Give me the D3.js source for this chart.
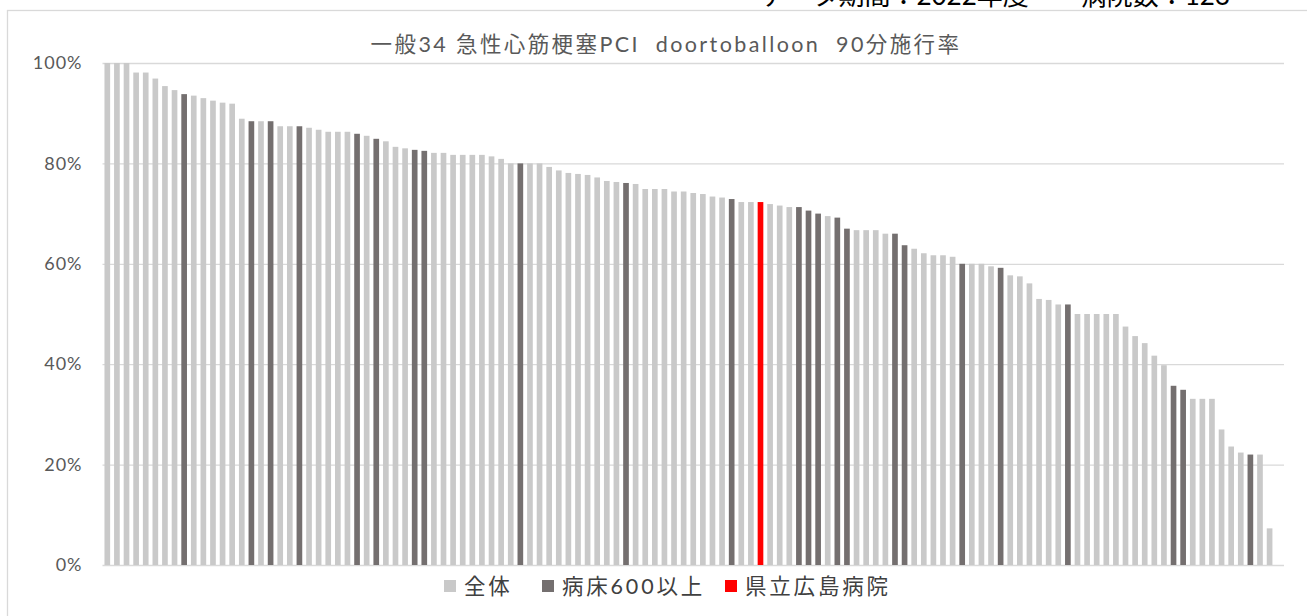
<!DOCTYPE html>
<html lang="ja">
<head>
  <meta charset="UTF-8">
  <title>急性心筋梗塞PCI doortoballoon 90分施行率</title>
  <script src="https://d3js.org/d3.v7.min.js"></script>
  <style>
    body { margin: 0; background: #fff; }
    svg { display: block; }
    text { font-family: Lato, "Noto Sans CJK JP", sans-serif; }
    .grid line { stroke: #d9d9d9; stroke-width: 1.3px; }
    .grid text { fill: #595959; font-size: 18px; letter-spacing: 1px; }
    .title { fill: #595959; font-size: 21.5px; letter-spacing: 2.4px; white-space: pre; }
    .legend text { fill: #404040; font-size: 21.5px; letter-spacing: 2.8px; }
    .header { fill: #000; font-size: 26px; }
  </style>
</head>
<body>
  <svg width="1307" height="616"></svg>

  <script>
    // 施行率（降順、病院数123）
    const rates = [
      1.000, 1.000, 1.000, 0.981, 0.981, 0.969, 0.954, 0.946, 0.938, 0.935,
      0.930, 0.925, 0.921, 0.919, 0.889, 0.884, 0.884, 0.884, 0.874, 0.874,
      0.874, 0.871, 0.867, 0.863, 0.863, 0.863, 0.859, 0.855, 0.849, 0.844,
      0.833, 0.830, 0.827, 0.825, 0.821, 0.821, 0.817, 0.817, 0.817, 0.817,
      0.814, 0.809, 0.800, 0.800, 0.800, 0.800, 0.793, 0.786, 0.781, 0.779,
      0.777, 0.772, 0.765, 0.763, 0.761, 0.759, 0.749, 0.749, 0.749, 0.744,
      0.744, 0.741, 0.739, 0.734, 0.732, 0.729, 0.723, 0.723, 0.723, 0.719,
      0.716, 0.713, 0.713, 0.706, 0.700, 0.695, 0.692, 0.670, 0.667, 0.667,
      0.667, 0.660, 0.660, 0.637, 0.630, 0.621, 0.617, 0.617, 0.614, 0.600,
      0.600, 0.600, 0.595, 0.592, 0.577, 0.575, 0.561, 0.530, 0.528, 0.519,
      0.519, 0.500, 0.500, 0.500, 0.500, 0.500, 0.475, 0.456, 0.442, 0.417,
      0.398, 0.357, 0.349, 0.331, 0.331, 0.331, 0.270, 0.236, 0.224, 0.220,
      0.220, 0.073, 0.000
    ];

    // 病床600以上の病院（順位）
    const largeHospitals = [9, 16, 18, 21, 27, 29, 33, 34, 44, 55, 66, 73, 74, 75, 77, 78,
                            83, 84, 90, 94, 101, 112, 113, 120];
    // 県立広島病院（順位）
    const targetHospital = 69;

    const hospitals = rates.map((d, i) => i + 1);
    const yTicks = [0, 0.2, 0.4, 0.6, 0.8, 1.0];
    const legendItems = ["全体", "病床600以上", "県立広島病院"];
    const colors = { all: "#c9c9c9", large: "#746f6f", target: "#ff0000" };

    const svg = d3.select("svg");

    // 外枠
    svg.append("rect")
      .attr("x", 7.5).attr("y", 10.5)
      .attr("width", 1320).attr("height", 620)
      .attr("fill", "none")
      .attr("stroke", "#d9d9d9")
      .attr("stroke-width", 1.3);

    // 上部の見出し（元画像でも上端で切れている）
    svg.append("text")
      .attr("class", "header")
      .attr("x", 1230).attr("y", 5)
      .attr("text-anchor", "end")
      .text("データ期間：2022年度　　病院数：123");

    const x = d3.scaleBand()
      .domain(hospitals)
      .range([102.5, 1284])
      .paddingInner(0.41)
      .paddingOuter(0.205);

    const y = d3.scaleLinear()
      .domain([0, 1])
      .range([565, 63]);

    // 目盛線とラベル
    const grid = svg.append("g")
      .attr("class", "grid")
      .attr("transform", "translate(102.5,0)")
      .call(d3.axisLeft(y)
        .tickValues(yTicks)
        .tickSize(-(1284 - 102.5))
        .tickPadding(20)
        .tickFormat(d3.format(".0%")));
    grid.select(".domain").remove();

    // 棒
    function barColor(h) {
      if (h === targetHospital) return colors.target;
      if (largeHospitals.includes(h)) return colors.large;
      return colors.all;
    }

    svg.append("g")
      .selectAll("rect")
      .data(hospitals)
      .enter()
      .append("rect")
      .attr("x", d => x(d))
      .attr("y", d => y(rates[d - 1]))
      .attr("width", x.bandwidth())
      .attr("height", d => y(0) - y(rates[d - 1]))
      .attr("fill", d => barColor(d));

    // タイトル
    svg.append("text")
      .attr("class", "title")
      .attr("x", 666).attr("y", 52)
      .attr("text-anchor", "middle")
      .text("一般34 急性心筋梗塞PCI  doortoballoon  90分施行率");

    // 凡例
    const legendX = [444, 542, 725];
    const legendColors = [colors.all, colors.large, colors.target];
    const legend = svg.append("g").attr("class", "legend");
    legendItems.forEach((name, i) => {
      legend.append("rect")
        .attr("x", legendX[i]).attr("y", 580)
        .attr("width", 12).attr("height", 12)
        .attr("fill", legendColors[i]);
      legend.append("text")
        .attr("x", legendX[i] + 20).attr("y", 594)
        .text(name);
    });
  </script>
</body>
</html>
